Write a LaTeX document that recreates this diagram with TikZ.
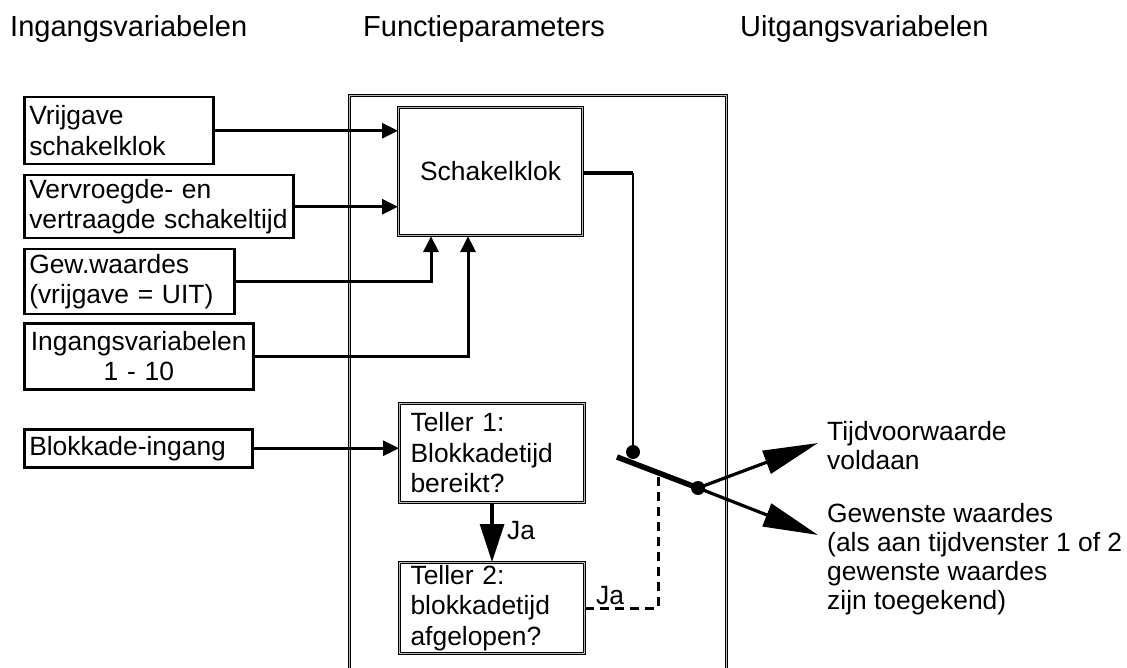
\documentclass[tikz,border=0pt]{standalone}
\usepackage{fontspec}
\setmainfont{Liberation Sans}
\usetikzlibrary{arrows.meta}
\begin{document}
\begin{tikzpicture}[x=1pt,y=-1pt,
  hdr/.style={font=\fontsize{29}{34}\selectfont, anchor=base west, inner sep=0pt},
  txt/.style={font=\fontsize{26.4}{30.5}\selectfont},
  rtxt/.style={font=\fontsize{26.4}{29}\selectfont, anchor=base west, align=left, inner sep=0pt},
  inbox/.style={draw, line width=2.5pt, txt, align=left, anchor=north west, inner xsep=5pt, inner ysep=0pt},
  fbox/.style={draw, line width=1.1pt, double=gray!55, double distance=1pt, txt, anchor=north west, inner xsep=11pt, inner ysep=0pt},
  conn/.style={line width=3pt, -{Triangle[length=16pt,width=15pt]}},
  dot/.style={circle, fill=black, inner sep=0pt, minimum size=14pt},
  bigarrow/.style={line width=3.2pt, -{Triangle[length=55pt,width=24pt]}}
]
\useasboundingbox (0,0) rectangle (1127,668);
\clip (0,0) rectangle (1127,668);

% headers
\node[hdr] (h1) at (10,37) {Ingangsvariabelen};
\node[hdr] (h2) at (363,37) {Functieparameters};
\node[hdr] (h3) at (740,37) {Uitgangsvariabelen};

% frame
\node[draw, line width=1.1pt, double=gray!55, double distance=1pt, anchor=north west, minimum width=377pt, minimum height=620pt, inner sep=0pt] (fp) at (349,95) {};

% input boxes
\node[inbox, text width=179pt, minimum height=67pt] (b1) at (23,96) {Vrijgave\\schakelklok};
\node[inbox, text width=259pt, minimum height=63pt] (b2) at (23,174) {Vervroegde- en\\vertraagde schakeltijd};
\node[inbox, text width=200pt, minimum height=65pt] (b3) at (23,248) {Gew.waardes\\(vrijgave = UIT)};
\node[inbox, text width=219pt, minimum height=66pt, align=center] (b4) at (23,322) {Ingangsvariabelen\\1 - 10};
\node[inbox, text width=218pt, minimum height=38pt] (b5) at (23,428) {Blokkade-ingang};

% function boxes
\node[fbox, minimum width=184pt, minimum height=128pt] (sk) at (398,107) {Schakelklok};
\node[fbox, text width=163pt, minimum height=99pt, align=left] (t1) at (399,403) {Teller 1:\\Blokkadetijd\\bereikt?};
\node[fbox, text width=163pt, minimum height=91pt, align=left] (t2) at (399,562) {Teller 2:\\blokkadetijd\\afgelopen?};

% input connectors
\draw[conn] (b1.east) -- (b1.east -| sk.west);
\draw[conn] (b2.east) -- (b2.east -| sk.west);
\coordinate (s1) at ([xshift=33pt]sk.south west);
\coordinate (s2) at ([xshift=70pt]sk.south west);
\draw[conn] (b3.east) -| (s1);
\draw[conn] (b4.east) -| (s2);
\draw[conn] (b5.east) -- (b5.east -| t1.west);

% Teller 1 -> Teller 2
\draw[line width=3.2pt, -{Triangle[length=38pt,width=24pt]}] (t1.south) -- (t2.north);
\node[txt, inner sep=0pt] (ja1) at (521,531) {Ja};

% switch
\coordinate (kn) at (633,173);
\node[dot] (d1) at (633,452) {};
\node[dot] (d2) at (698,488) {};
\coordinate (lv) at (617,457);
\coordinate (dj) at (658,473);
\draw[line width=4.5pt, line join=miter] (sk.east |- kn) -- (kn);
\draw[line width=2.4pt] (kn) -- (d1.center);
\draw[line width=5.5pt] (lv) -- (d2.center);

% dashed return
\draw[line width=3pt, dash pattern=on 9pt off 6pt] (t2.east) -| (dj);
\node[txt, inner sep=0pt] (ja2) at (610,596) {Ja};

% outputs
\coordinate (o1) at (818,443);
\coordinate (o2) at (818,535);
\draw[bigarrow] (d2.center) -- (o1);
\draw[bigarrow] (d2.center) -- (o2);
\node[rtxt] (r1) at (827,469) {Tijdvoorwaarde\\voldaan};
\node[rtxt] (r2) at (827,609) {Gewenste waardes\\(als aan tijdvenster 1 of 2\\gewenste waardes\\zijn toegekend)};
\end{tikzpicture}
\end{document}
